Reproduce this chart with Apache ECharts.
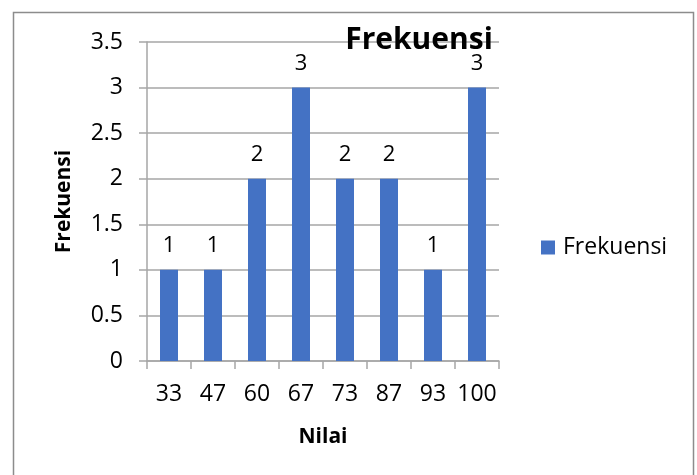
<!DOCTYPE html>
<html>
<head>
<meta charset="utf-8">
<script src="https://cdn.jsdelivr.net/npm/echarts@6/dist/echarts.min.js"></script>
<style>
  html, body { margin: 0; padding: 0; background: #fff; }
  #chart { width: 697px; height: 475px; }
</style>
</head>
<body>
<div id="chart"></div>
<script>
// chart data
const categories = ['33', '47', '60', '67', '73', '87', '93', '100']
const frekuensi = [1, 1, 2, 3, 2, 2, 1, 3]
const seriesName = 'Frekuensi'

const font = "'Open Sans', 'Noto Sans', sans-serif"
const myChart = echarts.init(document.getElementById('chart'))

const option = {
  animation: false,
  textStyle: { fontFamily: font },
  graphic: [
    {
      type: 'rect',
      shape: { x: 13.5, y: 12.5, width: 680, height: 500 },
      style: { fill: 'none', stroke: '#8c8c8c', lineWidth: 1.5 },
      z: 0
    }
  ],
  title: {
    text: 'Frekuensi',
    left: 414,
    top: 20,
    textAlign: 'center',
    textStyle: { fontSize: 30, fontWeight: 'bold', color: '#000', fontFamily: font }
  },
  legend: {
    data: [seriesName],
    orient: 'vertical',
    left: 541,
    top: 236,
    padding: 0,
    itemWidth: 14,
    itemHeight: 14,
    icon: 'rect',
    textStyle: { fontSize: 23, color: '#000', fontFamily: font, padding: [0, 0, 0, 3] }
  },
  grid: { left: 147, top: 42, width: 352, height: 319 },
  xAxis: {
    type: 'category',
    data: categories,
    name: 'Nilai',
    nameLocation: 'middle',
    nameGap: 66,
    nameTextStyle: { fontSize: 21, fontWeight: 'bold', color: '#000' },
    axisLine: { lineStyle: { color: '#a6a6a6', width: 1.5 } },
    axisTick: { show: true, length: 8, alignWithLabel: false, lineStyle: { color: '#a6a6a6', width: 1.5 } },
    axisLabel: { fontSize: 23, color: '#000', margin: 22, interval: 0 }
  },
  yAxis: {
    type: 'value',
    min: 0,
    max: 3.5,
    interval: 0.5,
    name: 'Frekuensi',
    nameLocation: 'middle',
    nameGap: 72,
    nameRotate: 90,
    nameTextStyle: { fontSize: 21, fontWeight: 'bold', color: '#000' },
    axisLine: { show: true, lineStyle: { color: '#a6a6a6', width: 1.5 } },
    axisTick: { show: true, length: 8, lineStyle: { color: '#a6a6a6', width: 1.5 } },
    splitLine: { lineStyle: { color: '#a6a6a6', width: 1.5 } },
    axisLabel: { fontSize: 23, color: '#000', margin: 24 }
  },
  series: [
    {
      name: seriesName,
      type: 'bar',
      data: frekuensi,
      barWidth: 18,
      itemStyle: { color: '#4472C4' },
      label: {
        show: true,
        position: 'top',
        distance: 13,
        fontSize: 22,
        color: '#000',
        fontFamily: font
      }
    }
  ]
}

myChart.setOption(option)
</script>
</body>
</html>
